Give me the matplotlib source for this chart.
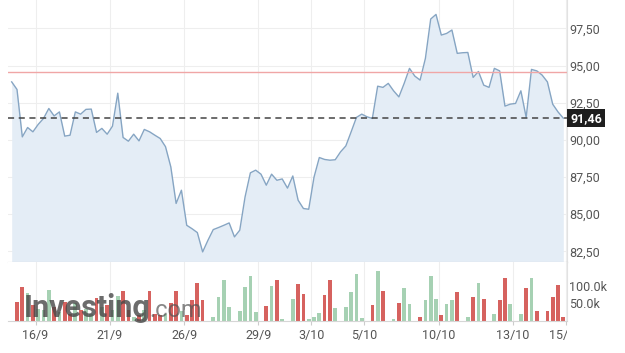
import matplotlib.pyplot as plt
from matplotlib.transforms import Bbox, TransformedBbox

# closing prices, one per bar
price = [93.90, 93.39, 90.20, 90.83, 90.54, 91.04, 91.44, 92.11, 91.61, 91.88,
         90.25, 90.31, 91.88, 91.73, 92.05, 92.07, 90.50, 90.77, 90.38, 90.92,
         93.14, 90.16, 89.91, 90.38, 89.93, 90.70, 90.54, 90.31, 90.09, 89.54,
         88.18, 85.72, 86.61, 84.25, 84.02, 83.76, 82.46, 83.24, 83.96, 84.10,
         84.25, 84.41, 83.47, 83.92, 86.16, 87.78, 87.96, 87.69, 86.95, 87.69,
         87.28, 87.37, 86.75, 87.57, 85.94, 85.38, 85.33, 87.49, 88.81, 88.68,
         88.63, 88.66, 89.19, 89.59, 90.54, 91.51, 91.73, 91.55, 91.44, 93.61,
         93.53, 93.80, 93.30, 92.89, 93.80, 94.81, 94.29, 94.02, 95.48, 98.13,
         98.44, 97.05, 97.16, 97.39, 95.82, 95.86, 95.88, 94.20, 94.60, 93.68,
         93.53, 94.81, 94.64, 92.27, 92.40, 92.45, 93.30, 91.51, 94.74, 94.64,
         94.36, 93.90, 92.40, 91.88, 91.46]

# volume in thousands
volume = [0, 53, 98, 80, 45, 35, 30, 90, 40, 25,
          55, 20, 50, 30, 35, 20, 66, 40, 45, 30,
          73, 87, 30, 10, 15, 30, 88, 20, 15, 20,
          50, 86, 28, 15, 61, 110, 61, 0, 10, 70,
          120, 40, 0, 28, 98, 131, 25, 0, 42, 101,
          118, 3, 0, 64, 106, 78, 3, 11, 23, 74,
          118, 38, 0, 41, 85, 138, 8, 0, 45, 144,
          88, 0, 3, 52, 96, 49, 0, 9, 59, 131,
          62, 15, 49, 59, 85, 0, 10, 70, 111, 62,
          0, 18, 59, 124, 49, 0, 18, 96, 126, 29,
          0, 29, 68, 103, 9]
# bar colour per bar: r = down, g = up
updown = ("rrrgrgggrg" "rrgrggrgrg" "grrgrgrrrg" "rrgrrrrggg" "ggggggggrg"
          "rgggrrgggr" "rgggggggrg" "rggrgggrgg" "grggrggrgr" "ggrrgggrgr"
          "rrrrr")

high_line = 94.56
last_price = 91.46
price_ticks = [82.5, 85.0, 87.5, 90.0, 92.5, 95.0, 97.5]
vol_ticks = [50, 100]
date_pos = [4.5, 18.5, 32.5, 46.5, 56.5, 66.5, 80.5, 94.5, 104.5]
date_labels = ["16/9", "21/9", "26/9", "29/9", "3/10", "5/10", "10/10", "13/10", "15/10"]

plt.rcParams['font.family'] = ['Roboto', 'DejaVu Sans']
W, H = 625, 353
fig = plt.figure(figsize=(W / 100, H / 100), dpi=100)
left, right = 8.3 / W, 566.7 / W
ax = fig.add_axes([left, 1 - 262.3 / H, right - left, 262.3 / H])
vax = fig.add_axes([left, 1 - 320.5 / H, right - left, (320.5 - 262.3) / H])

x = list(range(len(price)))
xlim = (-0.64, 104.64)
grid_c = "#eeeeee"
txt_c = "#555555"

# price panel
ax.fill_between(x, price, 81.76, color="#e4edf6", lw=0)
ax.plot(x, price, color="#86a5c3", lw=1)
ax.axhline(high_line, color="#f0a6a6", lw=1)
ax.axhline(last_price, color="#444444", lw=1.1, ls=(0, (4, 3)))
ax.set_xlim(*xlim)
ax.set_ylim(81.76, 99.41)
ax.set_yticks(price_ticks, labels=[f"{v:.2f}".replace(".", ",") for v in price_ticks])
ax.yaxis.tick_right()
ax.tick_params(axis="y", length=0, pad=2, labelsize=9, labelcolor=txt_c)
ax.set_xticks(date_pos)
ax.tick_params(axis="x", length=0, labelbottom=False)
ax.grid(True, color=grid_c, lw=0.8)
ax.set_axisbelow(True)
for s in ["top", "left"]:
    ax.spines[s].set_visible(False)
ax.spines["bottom"].set_color("#c4c4c4")
ax.spines["right"].set_color("#e2e2e2")
ax.text(1.0 + 3.5 / (right - left) / W, last_price, f"{last_price:.2f}".replace(".", ","),
        transform=ax.get_yaxis_transform(), color="white", fontsize=9, fontweight="bold",
        va="center", ha="left",
        bbox=dict(boxstyle="square,pad=0.22", fc="#1e1e1e", ec="none"))

# volume panel
bar_c = ["#d6625f" if c == "r" else "#a6d1b3" for c in updown]
vax.bar(x, [v * 1000 for v in volume], width=0.7, color=bar_c, lw=0)
vax.set_xlim(*xlim)
vax.set_ylim(0, 171000)
vax.set_yticks([v * 1000 for v in vol_ticks], labels=[f"{v:.1f}k" for v in vol_ticks])
vax.yaxis.tick_right()
vax.tick_params(axis="y", length=0, pad=2, labelsize=9, labelcolor=txt_c)
vax.set_xticks(date_pos, labels=date_labels)
vax.tick_params(axis="x", length=3, color="#cccccc", pad=3, labelsize=9, labelcolor=txt_c)
vax.grid(True, axis="x", color=grid_c, lw=0.8)
vax.set_axisbelow(True)
for s in ["top", "left"]:
    vax.spines[s].set_visible(False)
vax.spines["bottom"].set_color("#d6d6d6")
vax.spines["right"].set_color("#e2e2e2")
clip = TransformedBbox(Bbox([[0, 0], [right, 1]]), fig.transFigure)
for t in vax.get_xticklabels():
    t.set_clip_box(clip)
    t.set_clip_on(True)

# watermark
fig.text(24 / W, 1 - 317 / H, "Investing", fontsize=22, fontweight="bold",
         color="#474747", alpha=0.8, ha="left", va="baseline")
fig.text(149 / W, 1 - 317 / H, ".com", fontsize=17, color="#555555", alpha=0.7,
         ha="left", va="baseline")

fig.savefig("out.png", dpi=100)
